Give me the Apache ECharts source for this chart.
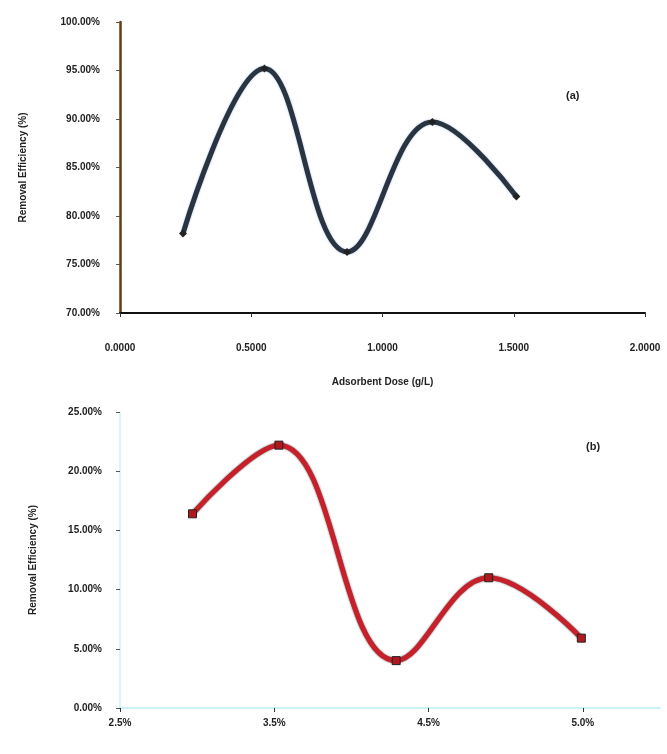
<!DOCTYPE html>
<html><head><meta charset="utf-8">
<script src="https://cdn.jsdelivr.net/npm/echarts@6/dist/echarts.min.js"></script>
<style>html,body{margin:0;padding:0;background:#fff}#c{width:667px;height:754px}</style>
</head><body><div id="c"></div>
<script>
// Panel (a)
const xTicksA = ["0.0000", "0.5000", "1.0000", "1.5000", "2.0000"];
const xA = [0.48, 1.10, 1.73, 2.38, 3.02];
const yA = [78.2, 95.2, 76.3, 89.7, 82.0];
// Panel (b)
const xTicksB = ["2.5%", "3.5%", "4.5%", "5.0%"];
const xB = [0.47, 1.03, 1.79, 2.39, 2.99];
const yB = [16.4, 22.2, 4.0, 11.0, 5.9];

const yTitle = "Removal Efficiency (%)";
const xTitleA = "Adsorbent Dose (g/L)";
const labelFont = {fontFamily: "Liberation Sans", fontWeight: "bold", fontSize: 10, color: "#222"};

const chart = echarts.init(document.getElementById('c'));
chart.setOption({
  animation: false,
  backgroundColor: '#fff',
  grid: [
    {left: 120, right: 22, top: 22, height: 291},
    {left: 120, right: 7, top: 412, height: 296}
  ],
  xAxis: [
    {gridIndex: 0, type: 'value', min: 0, max: 4, interval: 1,
     axisLine: {lineStyle: {color: '#111', width: 2}},
     axisTick: {show: true, length: 4, lineStyle: {color: '#333'}},
     splitLine: {show: false},
     axisLabel: Object.assign({margin: 30, formatter: v => xTicksA[Math.round(v)] ?? ''}, labelFont),
     name: xTitleA, nameLocation: 'middle', nameGap: 64,
     nameTextStyle: {fontFamily: "Liberation Sans", fontWeight: "bold", fontSize: 10, color: '#222'}},
    {gridIndex: 1, type: 'value', min: 0, max: 3.5, interval: 1,
     axisLine: {lineStyle: {color: '#c8f3f6', width: 2}},
     axisTick: {show: true, length: 4, lineStyle: {color: '#333'}},
     splitLine: {show: false},
     axisLabel: Object.assign({margin: 10, showMaxLabel: false, formatter: v => xTicksB[Math.round(v)] ?? ''}, labelFont)}
  ],
  yAxis: [
    {gridIndex: 0, type: 'value', min: 70, max: 100, interval: 5,
     axisLine: {show: true, lineStyle: {color: '#6b3a10', width: 2.5}},
     axisTick: {show: true, length: 4, lineStyle: {color: '#555'}},
     splitLine: {show: false},
     axisLabel: Object.assign({margin: 20, formatter: v => v.toFixed(2) + '%'}, labelFont),
     name: yTitle, nameLocation: 'middle', nameGap: 92, nameRotate: 90,
     nameTextStyle: {fontFamily: "Liberation Sans", fontWeight: "bold", fontSize: 10, color: '#222'}},
    {gridIndex: 1, type: 'value', min: 0, max: 25, interval: 5,
     axisLine: {show: true, lineStyle: {color: '#c8f3f6', width: 1.5}},
     axisTick: {show: true, length: 4, lineStyle: {color: '#555'}},
     splitLine: {show: false},
     axisLabel: Object.assign({margin: 18, formatter: v => v.toFixed(2) + '%'}, labelFont),
     name: yTitle, nameLocation: 'middle', nameGap: 82, nameRotate: 90,
     nameTextStyle: {fontFamily: "Liberation Sans", fontWeight: "bold", fontSize: 10, color: '#222'}}
  ],
  graphic: [
    {type: 'text', left: 566, top: 90, style: {text: '(a)', font: 'bold 11px Liberation Sans', fill: '#222'}},
    {type: 'text', left: 586, top: 441, style: {text: '(b)', font: 'bold 11px Liberation Sans', fill: '#222'}}
  ],
  series: [
    {type: 'line', xAxisIndex: 0, yAxisIndex: 0, smooth: 0.4,
     data: xA.map((x, i) => [x, yA[i]]),
     symbol: 'diamond', symbolSize: 8,
     lineStyle: {color: '#2a3340', width: 5, shadowColor: 'rgba(60,120,200,0.5)', shadowBlur: 2},
     itemStyle: {color: '#222'}},
    {type: 'line', xAxisIndex: 1, yAxisIndex: 1, smooth: 0.4,
     data: xB.map((x, i) => [x, yB[i]]),
     symbol: 'square', symbolSize: 8,
     lineStyle: {color: '#c8202a', width: 5, shadowColor: 'rgba(0,0,0,0.7)', shadowBlur: 2},
     itemStyle: {color: '#b01820', borderColor: '#222', borderWidth: 1}}
  ]
});
</script>
</body></html>
